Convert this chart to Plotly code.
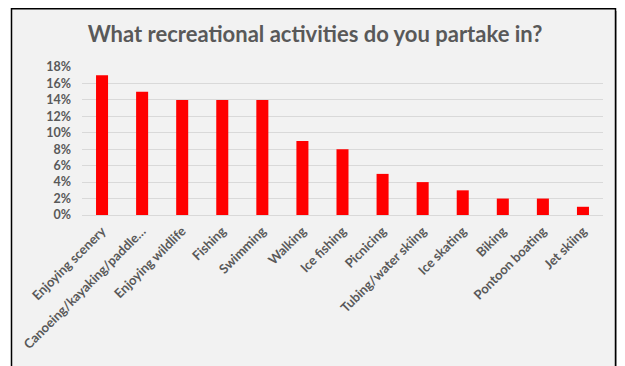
import plotly.graph_objects as go

categories = ["Enjoying scenery", "Canoeing/kayaking/paddle…", "Enjoying wildlife", "Fishing",
              "Swimming", "Walking", "Ice fishing", "Picnicing", "Tubing/water skiing",
              "Ice skating", "Biking", "Pontoon boating", "Jet skiing"]
values = [0.17, 0.15, 0.14, 0.14, 0.14, 0.09, 0.08, 0.05, 0.04, 0.03, 0.02, 0.02, 0.01]
y_ticks = [0, 0.02, 0.04, 0.06, 0.08, 0.10, 0.12, 0.14, 0.16, 0.18]
y_tick_labels = ["0%", "2%", "4%", "6%", "8%", "10%", "12%", "14%", "16%", "18%"]

FONT = "Lato, 'Open Sans', sans-serif"
GRAY = "#595959"

# page has an 8px body margin; work in figure pixels
OFF = 8
W, H = 625 - OFF, 366 - OFF
L, R, T, B = 82 - OFF, 22, 67 - OFF, 151
pw = W - L - R
ph = H - T - B

def px_x(x):
    return (x - OFF - L) / pw

def px_y(y):
    return 1 - (y - OFF - T) / ph

fig = go.Figure()
fig.add_trace(go.Bar(x=categories, y=values, marker=dict(color="#ff0000", line=dict(width=0)),
                     width=0.3, hoverinfo="skip"))

shapes = [
    dict(type="rect", xref="paper", yref="paper", x0=px_x(616), x1=px_x(622), y0=px_y(380), y1=px_y(11),
         fillcolor="#b0b0b0", line=dict(width=0), layer="below"),
    dict(type="rect", xref="paper", yref="paper", x0=px_x(11.5), x1=px_x(615.5), y0=px_y(380), y1=px_y(8.7),
         fillcolor="#f2f2f2", line=dict(color="#000000", width=1.5), layer="below"),
]

fig.update_layout(
    width=W, height=H,
    margin=dict(l=L, r=R, t=T, b=B, autoexpand=False),
    paper_bgcolor="#ffffff",
    plot_bgcolor="rgba(0,0,0,0)",
    showlegend=False,
    shapes=shapes,
    title=dict(text="<b>What recreational activities do you partake in?</b>",
               font=dict(family=FONT, size=22, color=GRAY),
               x=(315 - OFF) / W, xanchor="center", xref="container", y=1 - (34 - OFF) / H, yanchor="middle"),
    xaxis=dict(tickangle=-45, tickfont=dict(family=FONT, size=13, color=GRAY, weight="bold"),
               showgrid=False, showline=False, ticks="", range=[-0.5, 12.5], automargin=False,
               ticklabelstandoff=5),
    yaxis=dict(range=[0, 0.18], tickvals=y_ticks, ticktext=y_tick_labels,
               tickfont=dict(family=FONT, size=12.5, color=GRAY, weight="bold"),
               showgrid=True, gridcolor="#d9d9d9", gridwidth=1.3,
               zeroline=True, zerolinecolor="#d9d9d9", zerolinewidth=1.3,
               showline=False, ticks="", ticklabelstandoff=10, automargin=False),
)
fig.write_html("out.html")
